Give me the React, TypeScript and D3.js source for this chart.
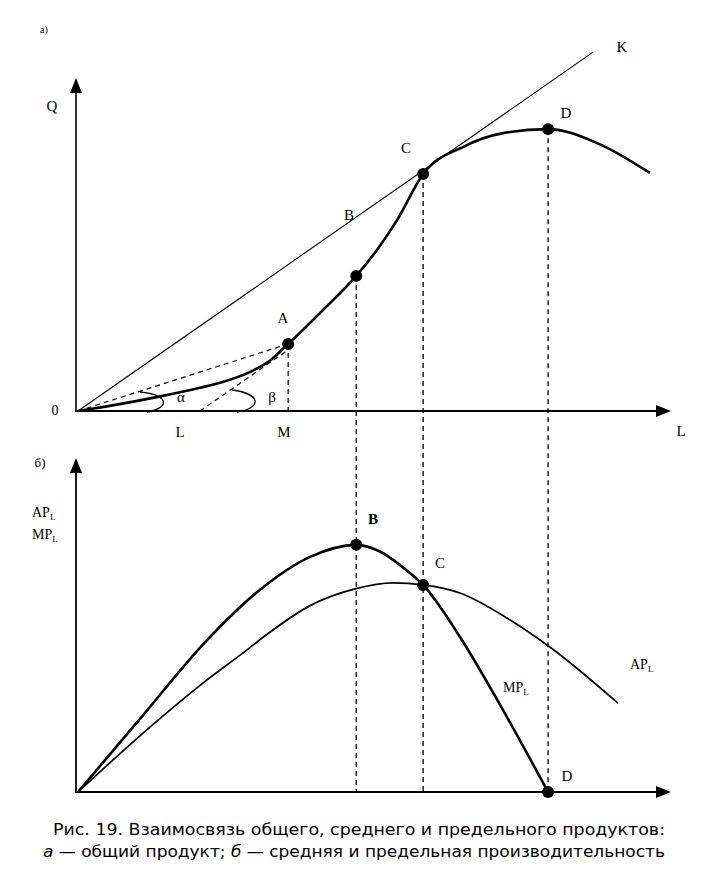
import React from "react";
import * as d3 from "d3";

// Upper panel: total product curve (L, Q)
const tpL = [0, 4.9, 13.9, 20.6, 24.0, 29.0, 32.5, 35.5, 41.2, 47.0, 50.5, 54.0, 58.3, 65.0, 71.8, 79.4, 87.7, 96.6];
const tpQ = [0, 1.4, 4.4, 7.0, 8.5, 11.7, 15.3, 20.2, 30.1, 40.7, 48.5, 57.8, 71.4, 79.5, 83.7, 84.9, 80.7, 71.7];

// Key points on TP
const pointNames = ["A", "B", "C", "D"];
const pointL = [35.5, 47.0, 58.3, 79.4];
const pointQ = [20.2, 40.7, 71.4, 84.9];

// Ray 0K end and tangent foot at A (point L on the axis)
const rayEnd = [87.0, 108.1];
const tangentFootL = 20.6;

// Lower panel: marginal product and average product
const mpL = [0, 10.0, 21.8, 30.7, 39.2, 47.0, 51.0, 54.5, 58.3, 64.5, 71.8, 79.4];
const mpV = [0, 20.9, 45.5, 60.5, 70.4, 74.0, 72.0, 67.8, 62.0, 46.5, 24.5, 0];
const apL = [0, 12.2, 21.1, 28.5, 32.0, 39.2, 46.8, 53.2, 58.3, 64.5, 73.0, 79.7, 91.2];
const apV = [0, 19.5, 32.6, 42.5, 47.3, 55.8, 60.8, 62.6, 62.0, 59.6, 51.5, 43.4, 26.6];

const lowerNames = ["B", "C", "D"];
const lowerL = [47.0, 58.3, 79.4];
const lowerV = [74.0, 62.0, 0];

const captionLine1 = "Рис. 19. Взаимосвязь общего, среднего и предельного продуктов:";

export default function App() {
  const W = 728, H = 880;
  const x = d3.scaleLinear().domain([0, 100]).range([78, 670]);
  const yT = d3.scaleLinear().domain([0, 100]).range([411, 79]);
  const yB = d3.scaleLinear().domain([0, 100]).range([792, 458]);

  const lineT = d3.line<number>().x((_, i) => x(tpL[i])).y((d) => yT(d)).curve(d3.curveMonotoneX);
  const lineMP = d3.line<number>().x((_, i) => x(mpL[i])).y((d) => yB(d)).curve(d3.curveMonotoneX);
  const lineAP = d3.line<number>().x((_, i) => x(apL[i])).y((d) => yB(d)).curve(d3.curveMonotoneX);

  const serif = "'Liberation Serif', 'DejaVu Serif', serif";
  const sans = "'Liberation Sans Narrow', 'DejaVu Sans Condensed', 'Liberation Sans', sans-serif";
  const ax = 76;
  const ox = x(0), oyT = yT(0), oyB = yB(0);
  const dash = "5,4";

  const upArrow = (tx: number, ty: number) => `M${tx},${ty} L${tx - 6},${ty + 15} L${tx + 6},${ty + 15} Z`;
  const rightArrow = (tx: number, ty: number) => `M${tx},${ty} L${tx - 15},${ty - 6} L${tx - 15},${ty + 6} Z`;

  const lx = x(tangentFootL);
  const alphaArc = `M${ox + 62},${oyT - 19} C${ox + 92},${oyT - 16} ${ox + 92},${oyT - 3} ${ox + 69},${oyT + 1}`;
  const betaArc = `M${lx + 32},${oyT - 21} C${lx + 62},${oyT - 17} ${lx + 62},${oyT - 3} ${lx + 37},${oyT + 1}`;

  return (
    <svg width={W} height={H} style={{ position: "absolute", left: 0, top: 0, background: "#fff" }}>
      <rect width={W} height={H} fill="#fff" />
      {/* Upper panel */}
      <text x={40} y={33} fontFamily={serif} fontSize={10}>а)</text>
      <line x1={ax} y1={oyT + 1} x2={ax} y2={90} stroke="#000" strokeWidth={1.6} />
      <path d={upArrow(ax, 78)} fill="#000" />
      <line x1={ax} y1={oyT} x2={658} y2={oyT} stroke="#000" strokeWidth={1.8} />
      <path d={rightArrow(671, oyT)} fill="#000" />
      <text x={52} y={111} fontFamily={serif} fontSize={15} textAnchor="middle">Q</text>
      <text x={55} y={415} fontFamily={serif} fontSize={14} textAnchor="middle">0</text>
      <text x={681} y={436} fontFamily={serif} fontSize={15} textAnchor="middle">L</text>
      <text x={180} y={437} fontFamily={serif} fontSize={15} textAnchor="middle">L</text>
      <text x={284} y={437} fontFamily={serif} fontSize={15} textAnchor="middle">M</text>

      {/* ray 0K */}
      <line x1={ox} y1={oyT} x2={x(rayEnd[0])} y2={yT(rayEnd[1])} stroke="#000" strokeWidth={1.1} />
      <text x={622} y={52} fontFamily={serif} fontSize={15} textAnchor="middle">K</text>

      {/* dashed OA and tangent at A */}
      <line x1={ox} y1={oyT} x2={x(pointL[0])} y2={yT(pointQ[0])} stroke="#000" strokeWidth={1.2} strokeDasharray={dash} />
      <line x1={lx} y1={oyT} x2={x(pointL[0])} y2={yT(pointQ[0]) + 6} stroke="#000" strokeWidth={1.2} strokeDasharray={dash} />
      <line x1={x(pointL[0])} y1={yT(pointQ[0])} x2={x(pointL[0])} y2={oyT} stroke="#000" strokeWidth={1.2} strokeDasharray={dash} />
      <path d={alphaArc} fill="none" stroke="#000" strokeWidth={1.3} />
      <path d={betaArc} fill="none" stroke="#000" strokeWidth={1.3} />
      <text x={181} y={402} fontFamily={serif} fontSize={15} textAnchor="middle">α</text>
      <text x={272} y={402} fontFamily={serif} fontSize={15} textAnchor="middle">β</text>

      {/* vertical dashed connectors B, C, D */}
      {pointL.slice(1).map((l, i) => (
        <line key={"v" + i} x1={x(l)} y1={yT(pointQ[i + 1])} x2={x(l)} y2={oyB} stroke="#000" strokeWidth={1.3} strokeDasharray={dash} />
      ))}

      {/* TP curve */}
      <path d={lineT(tpQ) || ""} fill="none" stroke="#000" strokeWidth={2.6} />
      {pointL.map((l, i) => (
        <circle key={"p" + i} cx={x(l)} cy={yT(pointQ[i])} r={6} fill="#000" />
      ))}
      <text x={283} y={323} fontFamily={serif} fontSize={15} textAnchor="middle">{pointNames[0]}</text>
      <text x={349} y={220} fontFamily={serif} fontSize={15} textAnchor="middle">{pointNames[1]}</text>
      <text x={406} y={153} fontFamily={serif} fontSize={15} textAnchor="middle">{pointNames[2]}</text>
      <text x={566} y={118} fontFamily={serif} fontSize={15} textAnchor="middle">{pointNames[3]}</text>

      {/* Lower panel */}
      <text x={40} y={467} fontFamily={serif} fontSize={13} textAnchor="middle">б)</text>
      <line x1={ax} y1={oyB + 1} x2={ax} y2={470} stroke="#000" strokeWidth={1.8} />
      <path d={upArrow(ax, 458)} fill="#000" />
      <line x1={ax} y1={oyB} x2={658} y2={oyB} stroke="#000" strokeWidth={1.8} />
      <path d={rightArrow(671, oyB)} fill="#000" />
      <text x={32} y={517} fontFamily={serif} fontSize={14}>AP<tspan fontSize={9} dy={3}>L</tspan></text>
      <text x={32} y={539} fontFamily={serif} fontSize={14}>MP<tspan fontSize={9} dy={3}>L</tspan></text>

      <path d={lineAP(apV) || ""} fill="none" stroke="#000" strokeWidth={1.7} />
      <path d={lineMP(mpV) || ""} fill="none" stroke="#000" strokeWidth={2.6} />
      {lowerL.map((l, i) => (
        <circle key={"q" + i} cx={x(l)} cy={yB(lowerV[i])} r={6} fill="#000" />
      ))}
      <text x={373} y={524} fontFamily={serif} fontSize={15} fontWeight="bold" textAnchor="middle">{lowerNames[0]}</text>
      <text x={440} y={568} fontFamily={serif} fontSize={15} textAnchor="middle">{lowerNames[1]}</text>
      <text x={567} y={781} fontFamily={serif} fontSize={15} textAnchor="middle">{lowerNames[2]}</text>
      <text x={630} y={669} fontFamily={serif} fontSize={14}>AP<tspan fontSize={9} dy={3}>L</tspan></text>
      <text x={503} y={692} fontFamily={serif} fontSize={14}>MP<tspan fontSize={9} dy={3}>L</tspan></text>

      {/* Caption */}
      <text x={53} y={835} fontFamily={sans} fontSize={16} textLength={612} lengthAdjust="spacingAndGlyphs">{captionLine1}</text>
      <text x={43} y={857} fontFamily={sans} fontSize={16} textLength={622} lengthAdjust="spacingAndGlyphs">
        <tspan fontStyle="italic">а</tspan> — общий продукт; <tspan fontStyle="italic">б</tspan> — средняя и предельная производительность
      </text>
    </svg>
  );
}
